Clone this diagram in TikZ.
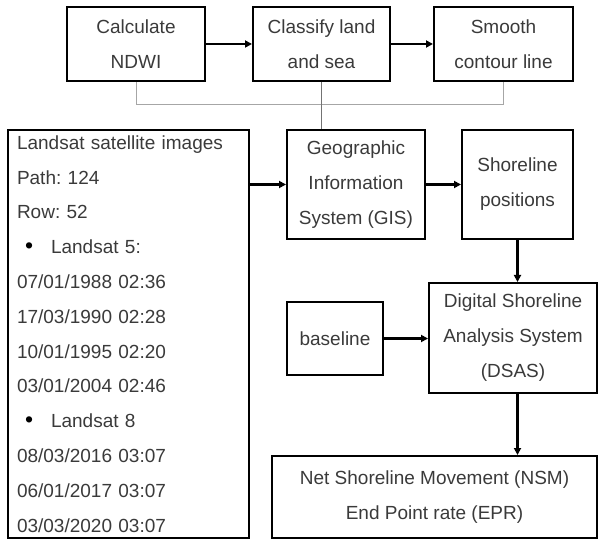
\documentclass[tikz,border=0pt]{standalone}
\usepackage{fontspec}
\setmainfont{Liberation Sans}
\usetikzlibrary{arrows.meta,positioning}
\frenchspacing
\definecolor{txt}{HTML}{3A3A3A}
\tikzset{
  box/.style={draw=black, line width=2pt, inner sep=0pt, align=center,
    font=\fontsize{19}{35}\selectfont, text=txt},
  flow/.style={line width=2.3pt, -{Triangle[length=7pt,width=7pt]}},
  thin/.style={line width=1pt, draw=black!35},
}
\newcommand{\bx}[5]{% name, x1, y1, x2, y2
  \node[box, minimum width=#4-#2, minimum height=#5-#3] (#1) at ({(#2+#4)/2},{(#3+#5)/2})}
\newcommand{\blt}{\hspace*{8pt}{\fontsize{23}{23}\selectfont\color{black}\textbullet}\hspace*{18pt}}
\begin{document}
\begin{tikzpicture}[x=1pt,y=-1pt]
\useasboundingbox (0,0) rectangle (600,540);
\bx{calc}{67}{7}{205}{81}{Calculate\\NDWI};
\bx{class}{253}{7}{390}{81}{Classify land\\and sea};
\bx{smooth}{434}{7}{573}{81}{Smooth\\contour line};
\node[box, minimum width=241, minimum height=408, text width=223, align=left,
  font=\fontsize{19}{34.8}\selectfont] (land) at ({(8+249)/2},{(130+538)/2})
  {Landsat satellite images\\Path: 124\\Row: 52\\
   \blt Landsat 5:\\
   07/01/1988 02:36\\17/03/1990 02:28\\10/01/1995 02:20\\03/01/2004 02:46\\
   \blt Landsat 8\\
   08/03/2016 03:07\\06/01/2017 03:07\\03/03/2020 03:07};
\bx{gis}{287}{130}{425}{239}{Geographic\\Information\\System (GIS)};
\bx{shore}{462}{130}{573}{239}{Shoreline\\positions};
\bx{dsas}{429}{283}{597}{393}{Digital Shoreline\\Analysis System\\(DSAS)};
\bx{base}{287}{302}{383}{375}{baseline};
\bx{nsm}{272}{456}{597}{538}{Net Shoreline Movement (NSM)\\End Point rate (EPR)};
% connectors
\draw[flow] (calc) -- (class);
\draw[flow] (class) -- (smooth);
\coordinate (j1) at ([yshift=-23pt]calc.south);
\draw[thin] (calc.south) -- (j1) -- (j1 -| smooth.south) -- (smooth.south);
\draw[line width=1pt, draw=black!55] (class.south) -- (class.south |- gis.north);
\draw[flow] (gis.west -| land.east) -- (gis.west);
\draw[flow] (gis) -- (gis -| shore.west);
\draw[flow] (shore.south) -- (shore.south |- dsas.north);
\draw[flow] (base) -- (base -| dsas.west);
\draw[flow] (dsas.south -| shore.south) -- (nsm.north -| shore.south);
\end{tikzpicture}
\end{document}
